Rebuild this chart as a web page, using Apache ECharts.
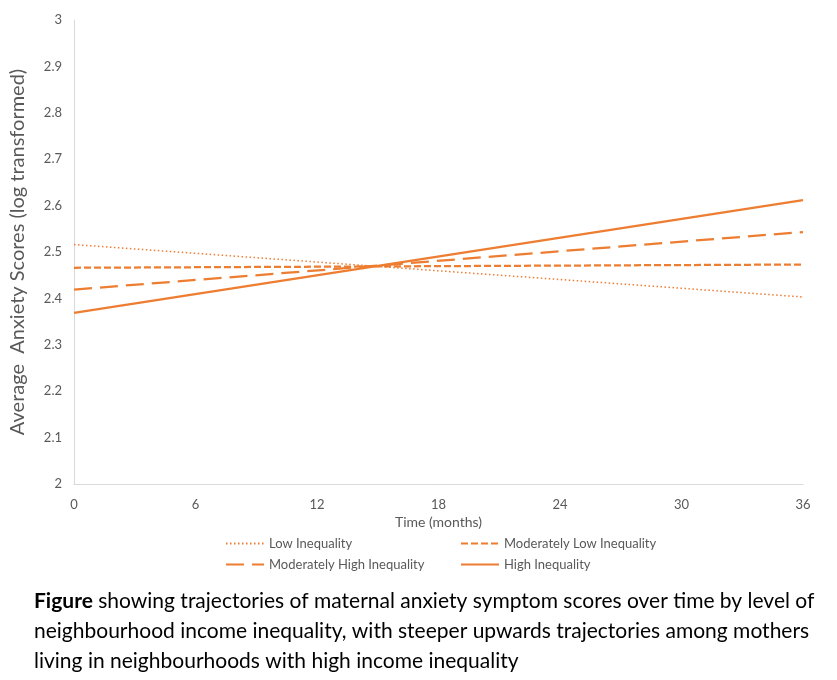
<!DOCTYPE html>
<html>
<head>
<meta charset="utf-8">
<script src="https://cdn.jsdelivr.net/npm/echarts@6/dist/echarts.min.js"></script>
<style>
  html, body { margin: 0; padding: 0; background: #fff; }
  #chart { width: 837px; height: 680px; }
</style>
</head>
<body>
<div id="chart"></div>
<script>
(function () {
  // months at which each trajectory is reported (straight lines, start and end)
  const months = [0, 36];
  const xTicks = [0, 6, 12, 18, 24, 30, 36];

  const lowInequality = [2.516, 2.403];
  const modLowInequality = [2.466, 2.473];
  const modHighInequality = [2.419, 2.543];
  const highInequality = [2.369, 2.612];

  const seriesNames = [
    'Low Inequality',
    'Moderately Low Inequality',
    'Moderately High Inequality',
    'High Inequality',
  ];

  const captionLines = [
    'showing trajectories of maternal anxiety symptom scores over time by level of',
    'neighbourhood income inequality, with steeper upwards trajectories among mothers',
    'living in neighbourhoods with high income inequality',
  ];

  const orange = '#ED7D31';
  const textColor = '#595959';
  const axisColor = '#D9D9D9';
  const font = 'Lato, Open Sans, sans-serif';

  const lineStyles = [
    { width: 1.5, type: [1.5, 2.5] },
    { width: 2.25, type: [7, 3] },
    { width: 2.25, type: [18, 8] },
    { width: 2.25, type: 'solid' },
  ];
  const values = [lowInequality, modLowInequality, modHighInequality, highInequality];

  const series = seriesNames.map((name, i) => ({
    name,
    type: 'line',
    data: months.map((m, j) => [m, values[i][j]]),
    symbol: 'none',
    lineStyle: Object.assign({ color: orange, cap: 'butt' }, lineStyles[i]),
    itemStyle: { color: orange },
  }));

  // one legend per item so the 2x2 block lines up like the original
  const legendPos = [
    { left: 220, top: 532 },
    { left: 455, top: 532 },
    { left: 220, top: 553 },
    { left: 455, top: 553 },
  ];
  const legends = seriesNames.map((name, i) => ({
    data: [name],
    left: legendPos[i].left,
    top: legendPos[i].top,
    itemWidth: 38,
    itemHeight: 14,
    selectedMode: false,
    itemStyle: { color: 'rgba(0,0,0,0)', borderColor: 'rgba(0,0,0,0)', borderWidth: 0 },
    textStyle: { color: textColor, fontSize: 13, fontFamily: font },
  }));

  const captionGraphics = captionLines.map((line, i) => ({
    type: 'text',
    x: 34,
    y: 601 + i * 30,
    style: {
      text: i === 0 ? '{b|Figure} ' + line : line,
      fill: '#000',
      font: '21px ' + font,
      verticalAlign: 'middle',
      rich: {
        b: { fontWeight: 'bold', fontSize: 21, fontFamily: font, fill: '#000' },
      },
    },
  }));

  const chart = echarts.init(document.getElementById('chart'));
  chart.setOption({
    animation: false,
    backgroundColor: '#fff',
    grid: { left: 72.5, right: 34, top: 20, bottom: 196 },
    legend: legends,
    xAxis: {
      type: 'value',
      min: 0,
      max: 36,
      interval: 6,
      name: 'Time (months)',
      nameLocation: 'middle',
      nameGap: 30,
      nameTextStyle: { color: textColor, fontSize: 14, fontFamily: font },
      axisLine: { show: true, lineStyle: { color: axisColor, width: 1 } },
      axisTick: { show: false },
      splitLine: { show: false },
      axisLabel: {
        color: textColor,
        fontSize: 13,
        fontFamily: font,
        margin: 14,
        customValues: xTicks,
      },
    },
    yAxis: {
      type: 'value',
      min: 2,
      max: 3,
      interval: 0.1,
      name: 'Average  Anxiety Scores (log transformed)',
      nameLocation: 'middle',
      nameGap: 46,
      nameTextStyle: { color: textColor, fontSize: 20, fontFamily: font },
      axisLine: { show: true, lineStyle: { color: axisColor, width: 1 } },
      axisTick: { show: false },
      splitLine: { show: false },
      axisLabel: {
        color: textColor,
        fontSize: 13,
        fontFamily: font,
        margin: 12,
        formatter: (v) => String(Math.round(v * 10) / 10),
      },
    },
    graphic: captionGraphics,
    series,
  });

  window.addEventListener('resize', () => chart.resize());
})();
</script>
</body>
</html>
